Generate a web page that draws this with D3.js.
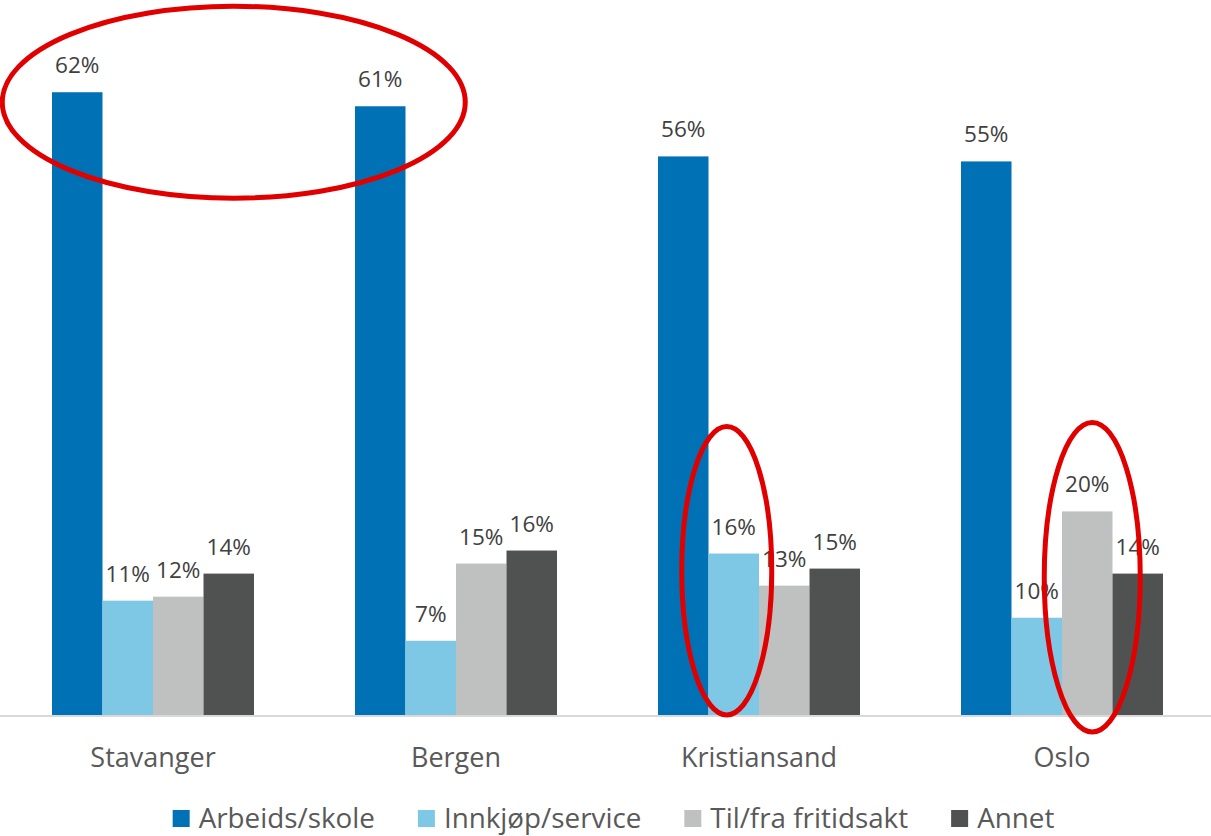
<!DOCTYPE html>
<html>
<head>
<meta charset="utf-8">
<script src="https://cdn.jsdelivr.net/npm/d3@7"></script>
<style>
  html, body { margin: 0; padding: 0; background: #fff; }
  svg { display: block; }
</style>
</head>
<body>
<svg id="chart" width="1211" height="836"></svg>
<script>
// ---- data ----
const categories = ["Stavanger", "Bergen", "Kristiansand", "Oslo"];
const seriesNames = ["Arbeids/skole", "Innkjøp/service", "Til/fra fritidsakt", "Annet"];
const arbeidsSkole   = [62.1, 60.7, 55.7, 55.2];
const innkjopService = [11.4, 7.4, 16.1, 9.7];
const tilFraFritid   = [11.8, 15.1, 12.9, 20.3];
const annet          = [14.1, 16.4, 14.6, 14.1];
const seriesValues = [arbeidsSkole, innkjopService, tilFraFritid, annet];
// highlighted marks (annotations)
const highlightGroup = ["Stavanger", "Bergen"];
const highlightBars = [["Kristiansand", "Innkjøp/service"], ["Oslo", "Til/fra fritidsakt"]];

// ---- styles ----
const colors = ["#0071B4", "#7EC8E6", "#BFC0C0", "#505252"];
const font = "'Open Sans', sans-serif";
// ellipse geometry per highlighted bar: [dx, rx, extra above bar top, extra below baseline]
const ellipseGeom = [[-7, 45, 127, 0], [5, 48, 89, 17]];

const svg = d3.select("#chart");
const baseY = 715;

const x0 = d3.scaleBand().domain(categories).range([1.5, 1213.5])
  .paddingInner(1/3).paddingOuter(1/6);
const x1 = d3.scaleBand().domain(seriesNames).range([0, x0.bandwidth()]).padding(0);
const y = d3.scaleLinear().domain([0, 70]).range([baseY, 13]);
const color = d3.scaleOrdinal().domain(seriesNames).range(colors);
const fmt = v => d3.format(".0f")(v) + "%";

const rows = [];
categories.forEach((c, ci) => seriesNames.forEach((s, si) =>
  rows.push({cat: c, ser: s, val: seriesValues[si][ci]})));

// axis (baseline only)
const xAxis = d3.axisBottom(x0).tickSize(0).tickPadding(0).tickSizeOuter(0);
const ax = svg.append("g").attr("transform", `translate(0,${baseY})`).call(xAxis);
ax.select(".domain").remove();
ax.selectAll("text").remove();
svg.append("line").attr("x1", 0).attr("x2", 1211).attr("y1", baseY + 1).attr("y2", baseY + 1)
  .attr("stroke", "#D9D9D9").attr("stroke-width", 2);

// bars
svg.append("g").selectAll("rect").data(rows).join("rect")
  .attr("x", d => x0(d.cat) + x1(d.ser))
  .attr("y", d => y(d.val))
  .attr("width", x1.bandwidth())
  .attr("height", d => y(0) - y(d.val))
  .attr("fill", d => color(d.ser));

// value labels
svg.append("g").selectAll("text").data(rows).join("text")
  .attr("x", d => x0(d.cat) + x1(d.ser) + x1.bandwidth() / 2)
  .attr("y", d => y(d.val) - 19)
  .attr("text-anchor", "middle")
  .attr("font-family", font).attr("font-size", 22.5)
  .attr("fill", "#404040")
  .text(d => fmt(d.val));

// category labels
svg.append("g").selectAll("text").data(categories).join("text")
  .attr("x", d => x0(d) + x0.bandwidth() / 2)
  .attr("y", 767)
  .attr("text-anchor", "middle")
  .attr("font-family", font).attr("font-size", 27)
  .attr("fill", "#595959")
  .text(d => d);

// legend
const lg = svg.append("g");
const items = lg.selectAll("g").data(seriesNames).join("g");
items.append("rect").attr("width", 17).attr("height", 17).attr("y", -18)
  .attr("fill", d => color(d));
items.append("text").attr("x", 26).attr("y", 0)
  .attr("font-family", font).attr("font-size", 27.8).attr("fill", "#595959")
  .text(d => d);
const widths = [];
items.each(function() {
  widths.push(26 + this.querySelector("text").getComputedTextLength());
});
const gap = 43;
const total = d3.sum(widths) + gap * (widths.length - 1);
let start = 613.5 - total / 2;
items.attr("transform", (d, i) => {
  const t = `translate(${start},828)`;
  start += widths[i] + gap;
  return t;
});

// annotation ellipses
const ann = svg.append("g").attr("fill", "none").attr("stroke", "#E00000").attr("stroke-width", 5);
{
  const bA = x0(highlightGroup[0]) + x1(seriesNames[0]) + x1.bandwidth() / 2;
  const bB = x0(highlightGroup[1]) + x1(seriesNames[0]) + x1.bandwidth() / 2;
  const top = y(d3.max(arbeidsSkole));
  ann.append("ellipse")
    .attr("cx", (bA + bB) / 2 + 5).attr("cy", top + 10)
    .attr("rx", (bB - bA) / 2 + 80).attr("ry", 96);
}
highlightBars.forEach(([c, s], i) => {
  const ci = categories.indexOf(c), si = seriesNames.indexOf(s);
  const v = seriesValues[si][ci];
  const [dx, rx, above, below] = ellipseGeom[i];
  const bx = x0(c) + x1(s) + x1.bandwidth() / 2;
  const topY = y(v) - above;
  const botY = y(0) + below;
  ann.append("ellipse")
    .attr("cx", bx + dx)
    .attr("cy", (topY + botY) / 2)
    .attr("rx", rx)
    .attr("ry", (botY - topY) / 2);
});
</script>
</body>
</html>
